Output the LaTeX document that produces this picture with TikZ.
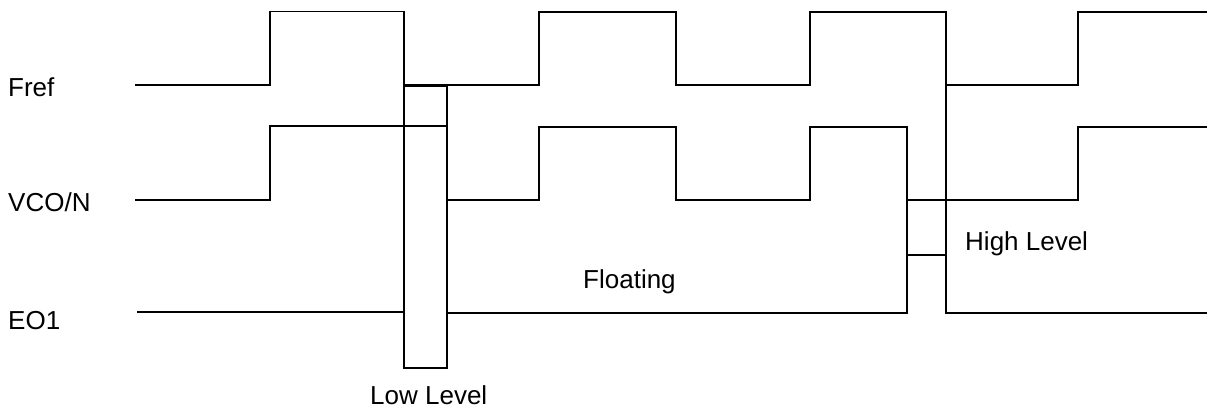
\documentclass[tikz,border=0pt]{standalone}
\usepackage{fontspec}
\setmainfont{Liberation Sans}
\begin{document}
\begin{tikzpicture}[x=1bp,y=-1bp,
  wave/.style={line width=1.6bp,line join=miter},
  lbl/.style={anchor=base west,inner sep=0pt,font=\fontsize{26bp}{30bp}\selectfont}]
\useasboundingbox (0,0) rectangle (1207,407);
% Fref
\draw[wave] (135,85) -- (270,85) -- (270,11.5) -- (404,11.5) -- (404,85) -- (539,85)
  -- (539,12) -- (676,12) -- (676,85) -- (810,85) -- (810,12) -- (946,12) -- (946,85)
  -- (1078,85) -- (1078,12) -- (1207,12);
% VCO/N
\draw[wave] (135,200) -- (270,200) -- (270,126) -- (447,126) -- (447,200) -- (539,200)
  -- (539,127) -- (676,127) -- (676,200) -- (810,200) -- (810,127) -- (907,127) -- (907,200)
  -- (1078,200) -- (1078,127) -- (1207,127);
% EO1
\draw[wave] (137,312) -- (404,312) -- (404,368) -- (447,368) -- (447,313) -- (907,313) -- (907,200);
\draw[wave] (404,85) -- (404,312);
\draw[wave] (404,86.5) -- (447,86.5) -- (447,368);
\draw[wave] (907,255) -- (946,255);
\draw[wave] (946,85) -- (946,313) -- (1207,313);
% labels
\node[lbl] (fref) at (8,96.7) {Fref};
\node[lbl] (vco) at (8,211.7) {VCO/N};
\node[lbl] (eo) at (8,329.3) {EO1};
\node[lbl] (floating) at (583,288.3) {Floating};
\node[lbl] (low) at (370,404) {Low Level};
\node[lbl] (high) at (965,250.7) {High Level};
\end{tikzpicture}
\end{document}
